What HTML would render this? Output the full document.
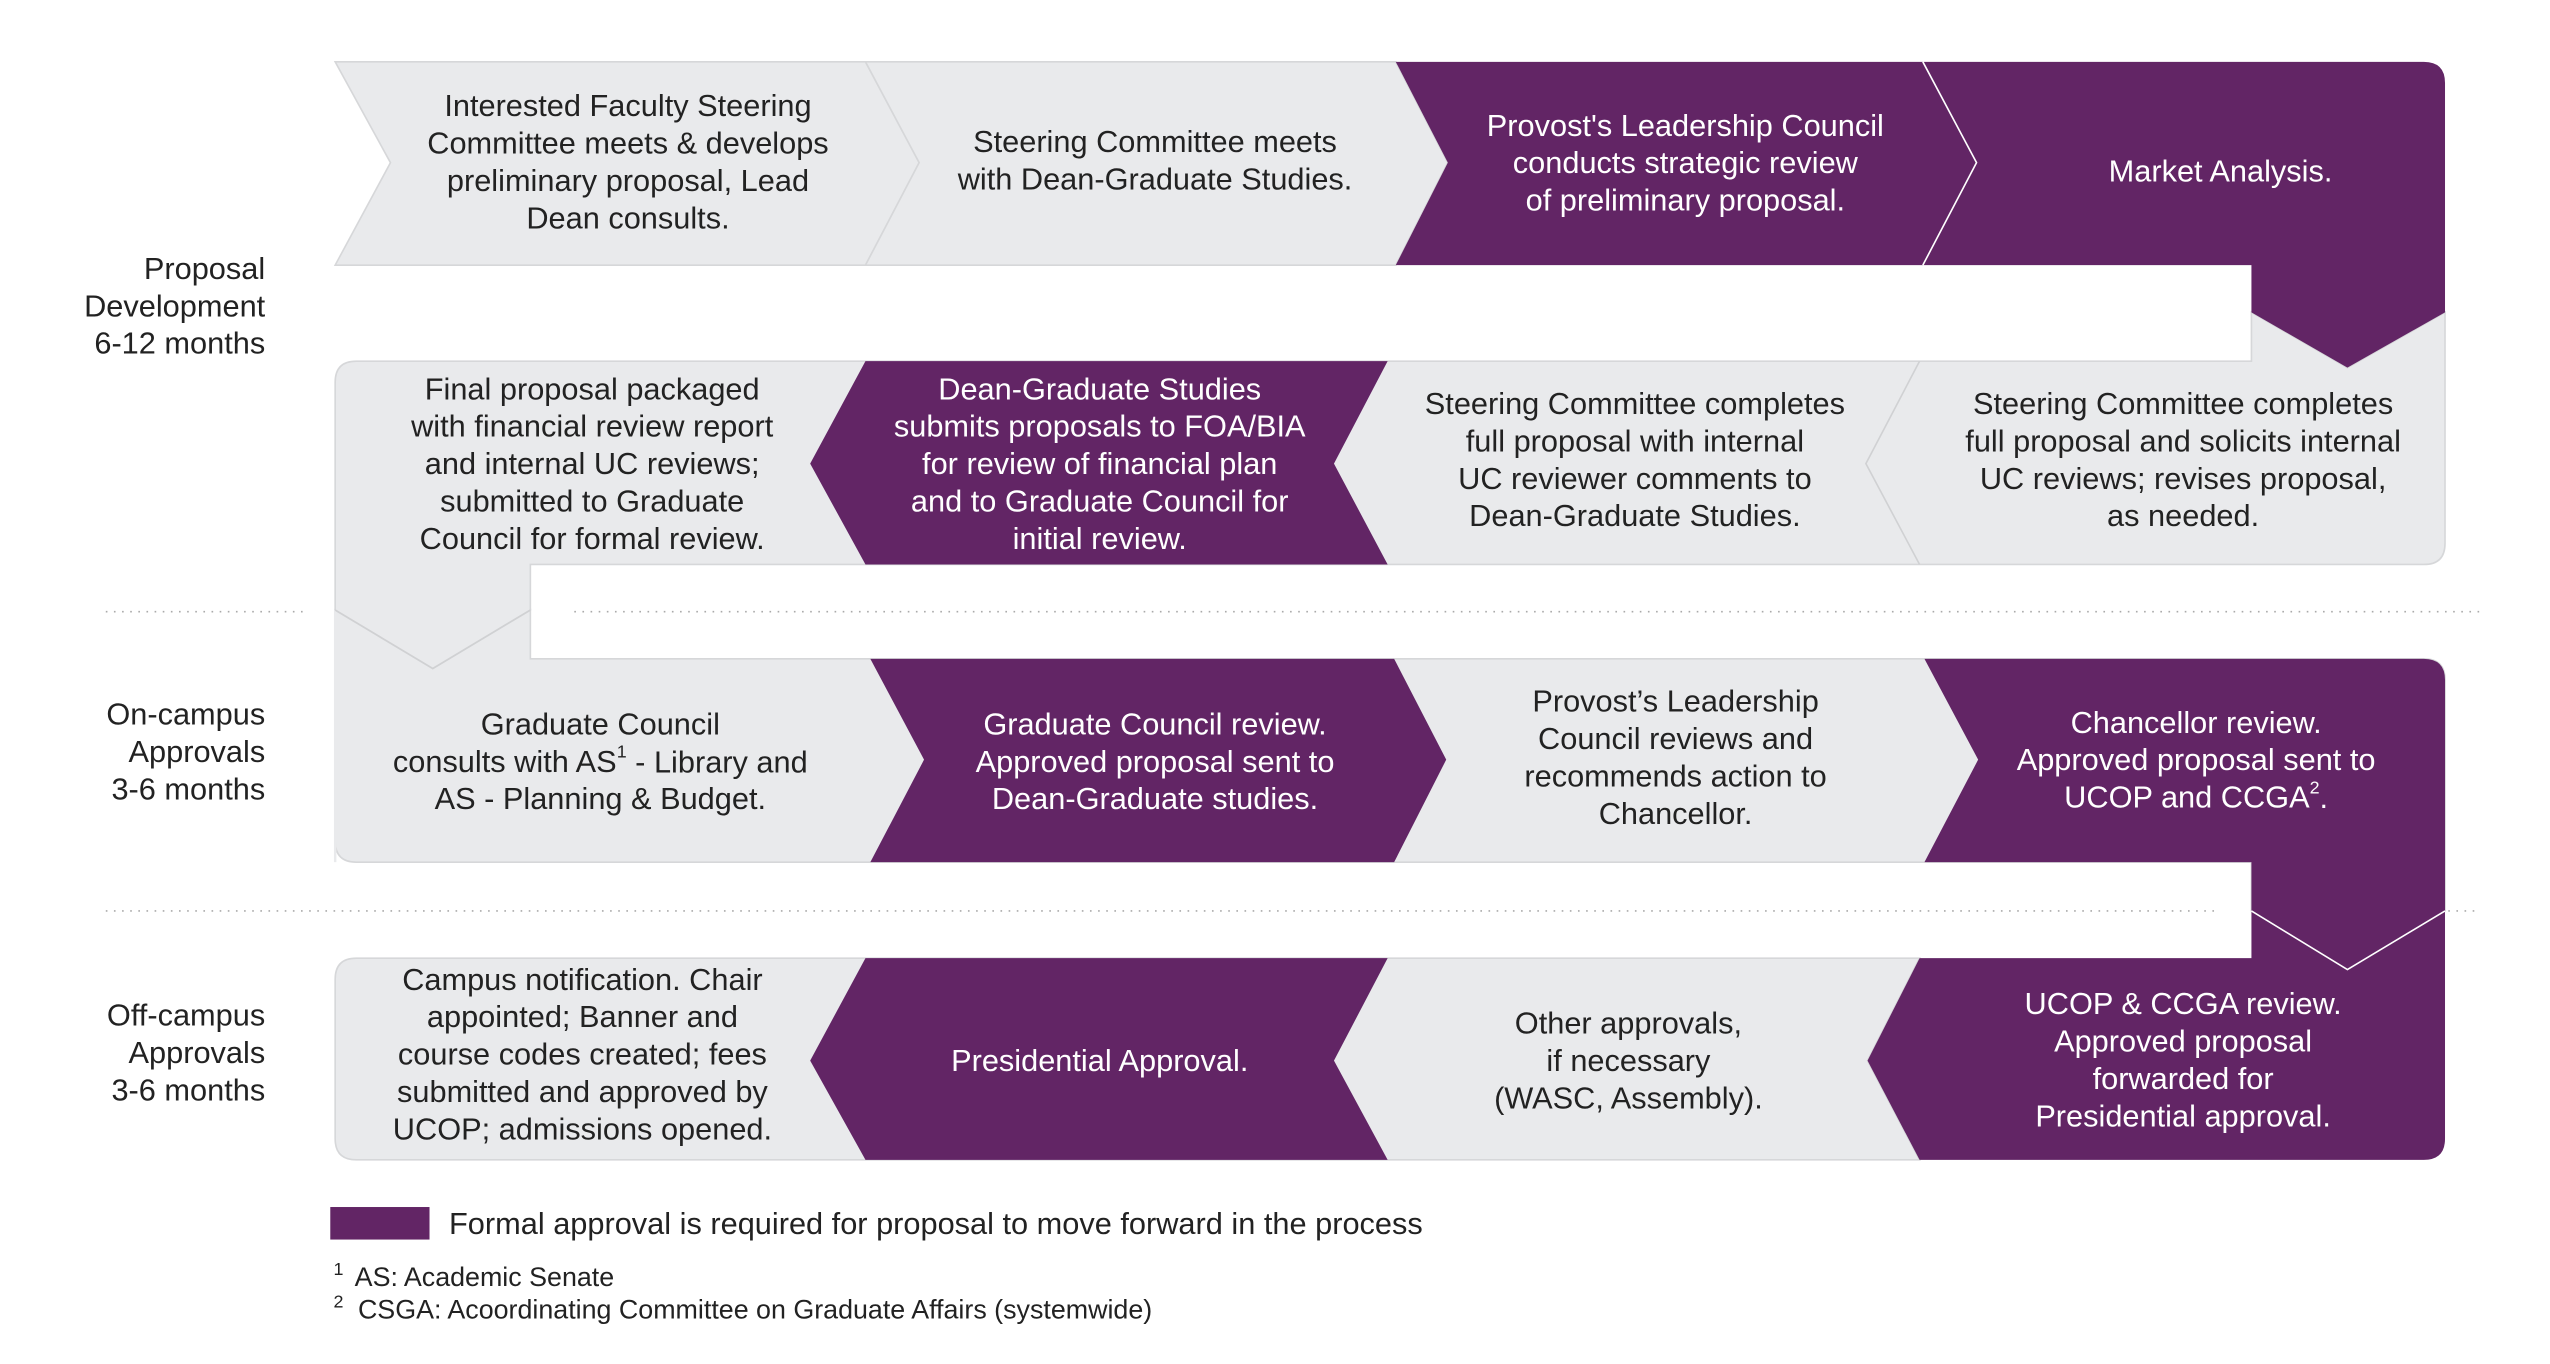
<!DOCTYPE html>
<html><head><meta charset="utf-8"><style>
html,body{margin:0;padding:0;background:#fff;}
svg{display:block;}
text{font-family:"Liberation Sans",sans-serif;font-size:18.9px;}
.d{fill:#222;} .w{fill:#fff;}
.l{fill:#222;text-anchor:end;}
.sup{font-size:11px;}
.fn{font-size:16.5px;}
</style></head><body>
<svg width="2550" height="1364" viewBox="0 0 1567.5 838.5" xmlns="http://www.w3.org/2000/svg">
<g stroke="#d6d7d9" stroke-width="1">
<polygon points="206,38 532,38 565,100 532,163 206,163 240,100" fill="#e9eaec"/>
<polygon points="532,38 858,38 890,100 858,163 532,163 565,100" fill="#e9eaec"/>
<path d="M219,222 H1384 V192 L1443,226 L1503,192 V334 Q1503,347 1490,347 H326 V375 L266,411 L206,375 V235 Q206,222 219,222 Z" fill="#e9eaec"/>
<path d="M206,375 L266,411 L326,375 V405 H1490 Q1503,405 1503,418 V560 L1443,596 L1384,560 V530 H219 Q206,530 206,517 Z" fill="#e9eaec"/>
<path d="M219,589 H1180 L1148,652 L1180,713 H219 Q206,713 206,700 V602 Q206,589 219,589 Z" fill="#e9eaec"/>
<line x1="206" y1="375" x2="206" y2="530" stroke="#e9eaec" stroke-width="1.5"/>
</g>
<polyline points="206,375 266,411 326,375" fill="none" stroke="#d0d1d3" stroke-width="1"/>
<g fill="#622565">
<polygon points="858,38 1182,38 1215,100 1182,163 858,163 890,100"/>
<path d="M1182,38 H1490 Q1503,38 1503,51 V192 L1443,226 L1384,192 V163 H1182 L1215,100 Z"/>
<polygon points="532,222 853,222 820,285 853,347 532,347 498,285"/>
<polygon points="535,405 857,405 889,467 857,530 535,530 568,467"/>
<path d="M1183,405 H1490 Q1503,405 1503,418 V700 Q1503,713 1490,713 H1180 L1148,652 L1180,589 H1384 V530 H1183 L1216,467 Z"/>
<polygon points="532,589 853,589 820,652 853,713 532,713 498,652"/>
</g>
<polyline points="1182,38 1215,100 1182,163" fill="none" stroke="#fff" stroke-width="1"/>
<polyline points="1384,560 1443,596 1503,560" fill="none" stroke="#fff" stroke-width="1"/>
<polyline points="1180,222 1147,285 1180,347" fill="none" stroke="#d0d1d3" stroke-width="1"/>
<g stroke="#aaa" stroke-width="1" stroke-dasharray="1,4">
<line x1="65" y1="376" x2="186" y2="376"/><line x1="353" y1="376" x2="1525" y2="376"/>
<line x1="65" y1="560" x2="1365" y2="560"/><line x1="1505" y1="560" x2="1525" y2="560"/>
</g>
<g dominant-baseline="central">
<text class="l" x="163" y="165">Proposal</text><text class="l" x="163" y="188">Development</text><text class="l" x="163" y="211">6-12 months</text>
<text class="l" x="163" y="439">On-campus</text><text class="l" x="163" y="462">Approvals</text><text class="l" x="163" y="485">3-6 months</text>
<text class="l" x="163" y="624">Off-campus</text><text class="l" x="163" y="647">Approvals</text><text class="l" x="163" y="670">3-6 months</text>
<g text-anchor="middle">
<text class="d" x="386" y="65">Interested Faculty Steering</text><text class="d" x="386" y="88">Committee meets &amp; develops</text><text class="d" x="386" y="111">preliminary proposal, Lead</text><text class="d" x="386" y="134">Dean consults.</text>
<text class="d" x="710" y="87">Steering Committee meets</text><text class="d" x="710" y="110">with Dean-Graduate Studies.</text>
<text class="w" x="1036" y="77">Provost's Leadership Council</text><text class="w" x="1036" y="100">conducts strategic review</text><text class="w" x="1036" y="123">of preliminary proposal.</text>
<text class="w" x="1365" y="105">Market Analysis.</text>
<text class="d" x="364" y="239">Final proposal packaged</text><text class="d" x="364" y="262">with financial review report</text><text class="d" x="364" y="285">and internal UC reviews;</text><text class="d" x="364" y="308">submitted to Graduate</text><text class="d" x="364" y="331">Council for formal review.</text>
<text class="w" x="676" y="239">Dean-Graduate Studies</text><text class="w" x="676" y="262">submits proposals to FOA/BIA</text><text class="w" x="676" y="285">for review of financial plan</text><text class="w" x="676" y="308">and to Graduate Council for</text><text class="w" x="676" y="331">initial review.</text>
<text class="d" x="1005" y="248">Steering Committee completes</text><text class="d" x="1005" y="271">full proposal with internal</text><text class="d" x="1005" y="294">UC reviewer comments to</text><text class="d" x="1005" y="317">Dean-Graduate Studies.</text>
<text class="d" x="1342" y="248">Steering Committee completes</text><text class="d" x="1342" y="271">full proposal and solicits internal</text><text class="d" x="1342" y="294">UC reviews; revises proposal,</text><text class="d" x="1342" y="317">as needed.</text>
<text class="d" x="369" y="445">Graduate Council</text><text class="d" x="369" y="468">consults with AS<tspan class="sup" dy="-6">1</tspan><tspan dy="6"> - Library and</tspan></text><text class="d" x="369" y="491">AS - Planning &amp; Budget.</text>
<text class="w" x="710" y="445">Graduate Council review.</text><text class="w" x="710" y="468">Approved proposal sent to</text><text class="w" x="710" y="491">Dean-Graduate studies.</text>
<text class="d" x="1030" y="431">Provost’s Leadership</text><text class="d" x="1030" y="454">Council reviews and</text><text class="d" x="1030" y="477">recommends action to</text><text class="d" x="1030" y="500">Chancellor.</text>
<text class="w" x="1350" y="444">Chancellor review.</text><text class="w" x="1350" y="467">Approved proposal sent to</text><text class="w" x="1350" y="490">UCOP and CCGA<tspan class="sup" dy="-6">2</tspan><tspan dy="6">.</tspan></text>
<text class="d" x="358" y="602">Campus notification. Chair</text><text class="d" x="358" y="625">appointed; Banner and</text><text class="d" x="358" y="648">course codes created; fees</text><text class="d" x="358" y="671">submitted and approved by</text><text class="d" x="358" y="694">UCOP; admissions opened.</text>
<text class="w" x="676" y="652">Presidential Approval.</text>
<text class="d" x="1001" y="629">Other approvals,</text><text class="d" x="1001" y="652">if necessary</text><text class="d" x="1001" y="675">(WASC, Assembly).</text>
<text class="w" x="1342" y="617">UCOP &amp; CCGA review.</text><text class="w" x="1342" y="640">Approved proposal</text><text class="w" x="1342" y="663">forwarded for</text><text class="w" x="1342" y="686">Presidential approval.</text>
</g>
<text class="d" x="276" y="752">Formal approval is required for proposal to move forward in the process</text>
<text class="d sup" x="205" y="780">1</text><text class="d fn" x="218" y="785">AS: Academic Senate</text>
<text class="d sup" x="205" y="800">2</text><text class="d fn" x="220" y="805">CSGA: Acoordinating Committee on Graduate Affairs (systemwide)</text>
</g>
<rect x="203" y="742" width="61" height="20" fill="#622565"/>
</svg>
</body></html>
